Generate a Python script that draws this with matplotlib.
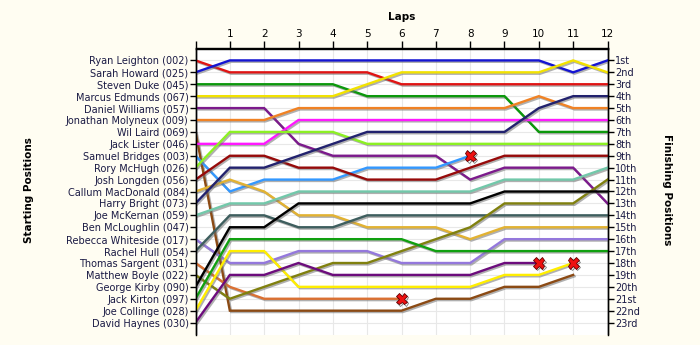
import matplotlib
matplotlib.use('Agg')
import matplotlib.pyplot as plt
import matplotlib.patheffects as pe
import numpy as np

# grille de depart (ordre de depart)
start_names = ['Ryan Leighton (002)', 'Sarah Howard (025)', 'Steven Duke (045)',
               'Marcus Edmunds (067)', 'Daniel Williams (057)', 'Jonathan Molyneux (009)',
               'Wil Laird (069)', 'Jack Lister (046)', 'Samuel Bridges (003)',
               'Rory McHugh (026)', 'Josh Longden (056)', 'Callum MacDonald (084)',
               'Harry Bright (073)', 'Joe McKernan (059)', 'Ben McLoughlin (047)',
               'Rebecca Whiteside (017)', 'Rachel Hull (054)', 'Thomas Sargent (031)',
               'Matthew Boyle (022)', 'George Kirby (090)', 'Jack Kirton (097)',
               'Joe Collinge (028)', 'David Haynes (030)']
finish_labels = ['1st', '2nd', '3rd', '4th', '5th', '6th', '7th', '8th', '9th', '10th',
                 '11th', '12th', '13th', '14th', '15th', '16th', '17th', '18th', '19th',
                 '20th', '21st', '22nd', '23rd']
laps = list(range(13))

# posicao em cada volta (volta 0 = largada)
leighton  = [1, 2, 2, 2, 2, 2, 3, 3, 3, 3, 3, 3, 3]
howard    = [2, 1, 1, 1, 1, 1, 1, 1, 1, 1, 1, 2, 1]
duke      = [3, 3, 3, 3, 3, 4, 4, 4, 4, 4, 7, 7, 7]
edmunds   = [4, 4, 4, 4, 4, 3, 2, 2, 2, 2, 2, 1, 2]
williams  = [5, 5, 5, 8, 9, 9, 9, 9, 11, 10, 10, 10, 13]
molyneux  = [6, 6, 6, 5, 5, 5, 5, 5, 5, 5, 4, 5, 5]
laird     = [7, 22, 22, 22, 22, 22, 22, 21, 21, 20, 20, 19]
lister    = [8, 8, 8, 6, 6, 6, 6, 6, 6, 6, 6, 6, 6]
bridges   = [9, 12, 11, 11, 11, 10, 10, 10, 9]
mchugh    = [10, 7, 7, 7, 7, 8, 8, 8, 8, 8, 8, 8, 8]
longden   = [11, 9, 9, 10, 10, 11, 11, 11, 10, 9, 9, 9, 9]
macdonald = [12, 11, 12, 14, 14, 15, 15, 15, 16, 15, 15, 15, 15]
bright    = [13, 10, 10, 9, 8, 7, 7, 7, 7, 7, 5, 4, 4]
mckernan  = [14, 13, 13, 12, 12, 12, 12, 12, 12, 11, 11, 11, 10]
mcloughlin = []
whiteside = [16, 18, 18, 17, 17, 17, 18, 18, 18, 16, 16, 16, 16]
hull      = [17, 14, 14, 15, 15, 14, 14, 14, 14, 14, 14, 14, 14]
sargent   = [18, 20, 21, 21, 21, 21, 21]
boyle     = [19, 21, 20, 19, 18, 18, 17, 16, 15, 13, 13, 13, 11]
kirby     = [20, 15, 15, 13, 13, 13, 13, 13, 13, 12, 12, 12, 12]
kirton    = [21, 16, 16, 16, 16, 16, 16, 17, 17, 17, 17, 17, 17]
collinge  = [22, 17, 17, 20, 20, 20, 20, 20, 20, 19, 19, 18]
haynes    = [23, 19, 19, 18, 19, 19, 19, 19, 19, 18, 18]

# abandonos (marcados com X)
retired = ['Samuel Bridges (003)', 'Thomas Sargent (031)', 'Joe Collinge (028)',
           'David Haynes (030)']

series = [leighton, howard, duke, edmunds, williams, molyneux, laird, lister, bridges,
          mchugh, longden, macdonald, bright, mckernan, mcloughlin, whiteside, hull,
          sargent, boyle, kirby, kirton, collinge, haynes]
cores = ['#e01414', '#1414d2', '#0c980c', '#f2e200', '#7c1a8c', '#f08224', '#8b4a14',
         '#ff18ff', '#3398ff', '#8cf024', '#960a0a', '#e2b232', '#22226e', '#72c8aa',
         '#999999', '#9478dc', '#3e5e5e', '#da7032', '#80800e', '#000000', '#10a010',
         '#ffee00', '#6c0c7c']

fig = plt.figure(figsize=(7, 3.45), dpi=100, facecolor='#fffdf2')
ax = fig.add_axes([195.5 / 700, 10.5 / 345, 412 / 700, 286 / 345])
ax.set_facecolor('white')

sombra = [pe.SimpleLineShadow(offset=(1.0, -1.0), shadow_color='#707070', alpha=0.55),
          pe.Normal()]

for nome, pos, cor in zip(start_names, series, cores):
    if len(pos) == 0:
        continue
    ax.plot(laps[:len(pos)], pos, color=cor, lw=1.7, solid_joinstyle='miter',
            path_effects=sombra, zorder=3)
    if nome in retired:
        ax.plot(len(pos) - 1, pos[-1], marker='X', ms=8, color='#ee1010',
                mec='#600000', mew=0.6, zorder=5,
                path_effects=[pe.SimpleLineShadow(offset=(1, -1), alpha=0.5), pe.Normal()])

ax.set_xlim(0, 12)
ax.set_ylim(24, 0)

ax.set_xticks(laps)
ax.set_xticklabels([''] + [str(l) for l in laps[1:]])
ax.xaxis.tick_top()
ax.tick_params(axis='x', direction='out', length=6, width=1, labelsize=7.5, pad=1)

pos_ticks = np.arange(1, 24)
ax.set_yticks(pos_ticks)
ax.set_yticklabels(start_names)
ax.tick_params(axis='y', direction='out', length=4, width=1, labelsize=7,
               labelcolor='#1a1a44', pad=1)

ax2 = ax.twinx()
ax2.set_ylim(24, 0)
ax2.set_yticks(pos_ticks)
ax2.set_yticklabels(finish_labels)
ax2.tick_params(axis='y', direction='out', length=4, width=1, labelsize=7,
                labelcolor='#1a1a44', pad=1.5)

ax.grid(True, color='#e8e8e8', lw=0.8, zorder=0)
ax.set_axisbelow(True)
for a in (ax, ax2):
    a.spines['bottom'].set_visible(False)
    for s in ('top', 'left', 'right'):
        a.spines[s].set_linewidth(1.0)

fig.text(0.574, 0.951, 'Laps', ha='center', va='center', fontsize=7.5, fontweight='bold')
fig.text(0.041, 0.45, 'Starting Positions', ha='center', va='center', rotation=90,
         fontsize=7.5, fontweight='bold')
fig.text(0.953, 0.45, 'Finishing Positions', ha='center', va='center', rotation=270,
         fontsize=7.5, fontweight='bold')

fig.savefig('out.png', dpi=100, facecolor=fig.get_facecolor())
